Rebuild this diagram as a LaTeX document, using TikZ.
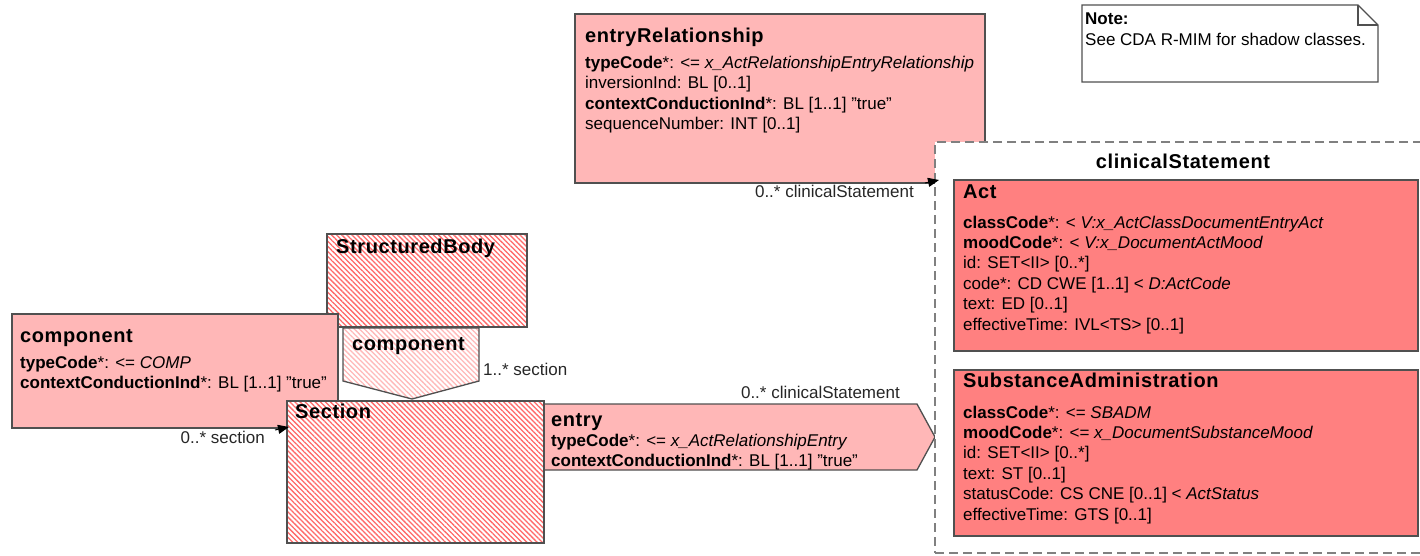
\documentclass[tikz,border=0pt]{standalone}
\usepackage{fontspec}
\setmainfont{Liberation Sans}[Ligatures=ResetAll]
\newfontfamily\ttlfont{Liberation Sans}[LetterSpace=3]
\usetikzlibrary{arrows.meta,patterns.meta}
\definecolor{pinkfill}{RGB}{255,183,183}
\definecolor{redfill}{RGB}{255,128,128}
\definecolor{edgegray}{RGB}{80,80,80}
\definecolor{hatchred}{RGB}{255,105,105}
\definecolor{hatchlight}{RGB}{255,185,185}
\definecolor{dashgray}{RGB}{128,128,128}
\newcommand\fattr{\fontsize{17}{20}\selectfont}
\newcommand\fttl{\ttlfont\bfseries\fontsize{20}{24}\selectfont}
\newcommand\qtrue{"true"}
\begin{document}
\begin{tikzpicture}[x=1pt,y=-1pt,
  box/.style={draw=edgegray, line width=1.3pt, anchor=north west, inner sep=0pt, outer sep=0pt},
  shapeline/.style={draw=edgegray, line width=1.3pt},
  txt/.style={anchor=base west, inner sep=0pt, font=\fattr},
  ttl/.style={anchor=base west, inner sep=0pt, font=\fttl},
  lbl/.style={anchor=base east, inner sep=0pt, font=\fattr, text=black!85},
  arr/.style={-{Triangle[length=11pt,width=9pt]}, line width=1pt},
  hatch/.style={preaction={fill=white}, pattern={Lines[angle=-45,distance=3.6pt,line width=1.3pt]}, pattern color=hatchred},
  hatchlt/.style={preaction={fill=white}, pattern={Lines[angle=-45,distance=3.6pt,line width=1.3pt]}, pattern color=hatchlight}
]
\useasboundingbox (0,0) rectangle (1420,555);

% ---------- StructuredBody ----------
\node[box, hatch, minimum width=200pt, minimum height=93pt] (sb) at (327,234) {};
\node[ttl] (sbT) at (336,253) {StructuredBody};

% ---------- component (left) ----------
\node[box, fill=pinkfill, minimum width=326pt, minimum height=114pt] (comp) at (12,314) {};
\node[ttl] (compT) at (20,342) {component};
\node[txt] (comp1) at (20,368) {\textbf{typeCode}*: <= \textit{COMP}};
\node[txt] (comp2) at (20,388) {\textbf{contextConductionInd}*: BL [1..1] \qtrue};

% ---------- component (chevron) ----------
\draw[shapeline, hatchlt] (343,328) -- (479,328) -- (479,381) -- (412,399) -- (343,381) -- cycle;
\coordinate (chev) at (412,399);
\node[ttl] (chevT) at (352,350) {component};

% ---------- entry (chevron) ----------
\draw[shapeline, fill=pinkfill] (543,404) -- (917,404) -- (935,437) -- (917,470) -- (543,470) -- cycle;
\coordinate (entryTip) at (935,437);
\node[ttl] (entT) at (551,426) {entry};
\node[txt] (ent1) at (551,446) {\textbf{typeCode}*: <= \textit{x\_ActRelationshipEntry}};
\node[txt] (ent2) at (551,466) {\textbf{contextConductionInd}*: BL [1..1] \qtrue};

% ---------- Section ----------
\node[box, hatch, minimum width=257pt, minimum height=142pt] (sec) at (287,401) {};
\node[ttl] (secT) at (295,418) {Section};

% ---------- entryRelationship ----------
\node[box, fill=pinkfill, minimum width=410pt, minimum height=169pt] (er) at (575,14) {};
\node[ttl] (erT) at (585,42) {entryRelationship};
\node[txt] (er1) at (585,68) {\textbf{typeCode}*: <= \textit{x\_ActRelationshipEntryRelationship}};
\node[txt] (er2) at (585,88.5) {inversionInd: BL [0..1]};
\node[txt] (er3) at (585,109) {\textbf{contextConductionInd}*: BL [1..1] \qtrue};
\node[txt] (er4) at (585,129.5) {sequenceNumber: INT [0..1]};

% ---------- clinicalStatement (dashed) ----------
\node[draw=dashgray, line width=2pt, dash pattern=on 9pt off 5pt, fill=white, anchor=north west,
      inner sep=0pt, outer sep=0pt, minimum width=500pt, minimum height=411pt] (cs) at (935,142) {};
\node[anchor=base, inner sep=0pt, font=\fttl] (csT) at (1183,168) {clinicalStatement};

% ---------- Act ----------
\node[box, fill=redfill, minimum width=464pt, minimum height=171pt] (act) at (954,180) {};
\node[ttl] (actT) at (963,198) {Act};
\node[txt] (act1) at (963,228) {\textbf{classCode}*: < \textit{V:x\_ActClassDocumentEntryAct}};
\node[txt] (act2) at (963,248.4) {\textbf{moodCode}*: < \textit{V:x\_DocumentActMood}};
\node[txt] (act3) at (963,268.8) {id: SET<II> [0..*]};
\node[txt] (act4) at (963,289.2) {code*: CD CWE [1..1] < \textit{D:ActCode}};
\node[txt] (act5) at (963,309.6) {text: ED [0..1]};
\node[txt] (act6) at (963,330) {effectiveTime: IVL<TS> [0..1]};

% ---------- SubstanceAdministration ----------
\node[box, fill=redfill, minimum width=464pt, minimum height=166pt] (sa) at (954,370) {};
\node[ttl] (saT) at (963,387) {SubstanceAdministration};
\node[txt] (sa1) at (963,418) {\textbf{classCode}*: <= \textit{SBADM}};
\node[txt] (sa2) at (963,438.4) {\textbf{moodCode}*: <= \textit{x\_DocumentSubstanceMood}};
\node[txt] (sa3) at (963,458.8) {id: SET<II> [0..*]};
\node[txt] (sa4) at (963,479.2) {text: ST [0..1]};
\node[txt] (sa5) at (963,499.6) {statusCode: CS CNE [0..1] < \textit{ActStatus}};
\node[txt] (sa6) at (963,520) {effectiveTime: GTS [0..1]};

% ---------- Note ----------
\draw[shapeline, fill=white] (1082,5) -- (1358,5) -- (1378,25) -- (1378,82) -- (1082,82) -- cycle;
\draw[shapeline] (1358,5) -- (1358,25) -- (1378,25);
\node[txt] (noteA) at (1085,24) {\textbf{Note:}};
\node[txt] (noteB) at (1085,45) {See CDA R-MIM for shadow classes.};

% ---------- connectors ----------
\coordinate (erArrS) at (925,183);
\coordinate (erArrE) at (939,180);
\draw[arr] (erArrS) -- (erArrE);
\coordinate (cpArrS) at (275,430);
\coordinate (cpArrE) at (289,427);
\draw[arr] (cpArrS) -- (cpArrE);

% ---------- labels ----------
\node[lbl] (l1) at (914,197) {0..* clinicalStatement};
\node[lbl] (l2) at (900,398) {0..* clinicalStatement};
\node[txt, text=black!85] (l3) at (483,375) {1..* section};
\node[lbl] (l4) at (265,443) {0..* section};
\end{tikzpicture}
\end{document}
